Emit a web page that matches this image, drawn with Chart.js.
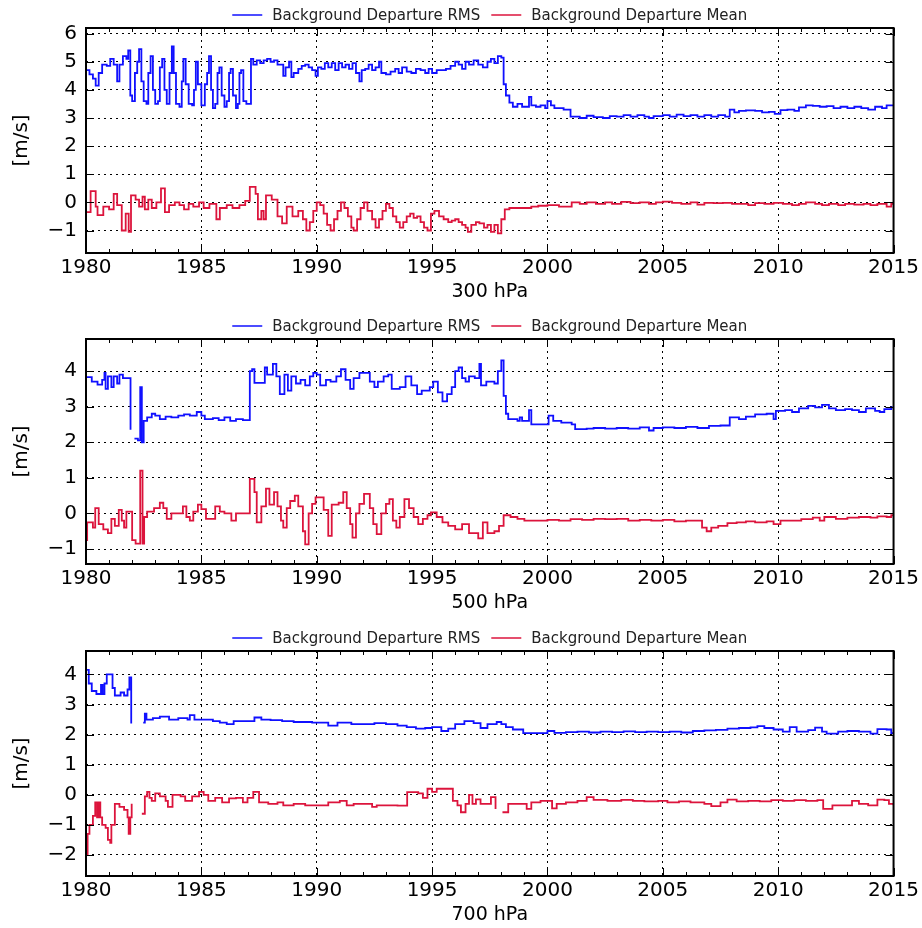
<!DOCTYPE html>
<html>
<head>
<meta charset="utf-8">
<script src="https://cdn.jsdelivr.net/npm/chart.js@4.4.0/dist/chart.umd.min.js"></script>
<style>
body { margin: 0; background: #fff; }
#wrap { position: relative; width: 922px; height: 928px; }
canvas { position: absolute; left: 0; }
</style>
</head>
<body>
<div id="wrap">
<canvas id="c300" width="922" height="305" style="top:0px"></canvas>
<canvas id="c500" width="922" height="305" style="top:311px"></canvas>
<canvas id="c700" width="922" height="305" style="top:623px"></canvas>
</div>
<script>
// values, [year, m/s]; each value holds until the next year entry
var seriesLabels = ['Background Departure RMS', 'Background Departure Mean'];
var levelTitles = ['300 hPa', '500 hPa', '700 hPa'];
var yearTicks = [1980, 1985, 1990, 1995, 2000, 2005, 2010, 2015];
var yRanges = [[-1.8, 6.2], [-1.42, 4.9], [-2.7, 4.78]];

var p300Rms = [
  [1980.0,4.7],[1980.15,4.55],[1980.3,4.4],[1980.42,4.15],[1980.55,4.6],[1980.7,4.9],[1980.9,4.85],[1981.05,5.1],
  [1981.2,4.9],[1981.35,4.3],[1981.45,4.9],[1981.6,5.2],[1981.75,5.1],[1981.83,5.4],[1981.92,3.8],[1982.0,3.6],
  [1982.12,4.6],[1982.22,5.0],[1982.3,5.45],[1982.4,4.3],[1982.5,3.6],[1982.62,3.5],[1982.7,4.6],[1982.8,5.2],
  [1982.9,4.0],[1983.0,3.5],[1983.12,3.6],[1983.2,4.8],[1983.3,5.1],[1983.4,4.0],[1983.5,3.5],[1983.62,4.6],
  [1983.72,5.55],[1983.8,4.6],[1983.9,3.5],[1984.05,3.4],[1984.15,4.3],[1984.22,5.1],[1984.32,4.2],[1984.45,3.5],
  [1984.6,3.45],[1984.68,4.0],[1984.76,5.0],[1984.85,4.2],[1985.0,3.45],[1985.15,4.2],[1985.25,4.6],[1985.33,5.2],
  [1985.42,4.0],[1985.5,3.35],[1985.6,3.5],[1985.7,4.6],[1985.78,4.8],[1985.88,3.8],[1986.0,3.4],[1986.1,3.6],
  [1986.2,4.6],[1986.27,4.75],[1986.37,3.8],[1986.5,3.35],[1986.58,3.5],[1986.65,4.6],[1986.72,4.7],[1986.82,3.6],
  [1986.95,3.5],[1987.15,5.1],[1987.25,4.9],[1987.4,5.05],[1987.55,4.95],[1987.7,5.05],[1987.85,5.1],[1988.0,5.0],
  [1988.15,5.05],[1988.3,4.9],[1988.45,4.9],[1988.55,4.5],[1988.65,4.8],[1988.8,5.0],[1988.9,4.45],[1989.0,4.6],
  [1989.2,4.75],[1989.35,4.85],[1989.5,4.9],[1989.65,4.8],[1989.8,4.7],[1989.95,4.5],[1990.05,4.8],[1990.2,4.75],
  [1990.35,4.95],[1990.5,4.8],[1990.65,4.95],[1990.8,4.7],[1990.95,4.95],[1991.1,4.8],[1991.25,4.9],[1991.4,4.75],
  [1991.55,4.95],[1991.7,4.6],[1991.85,4.3],[1991.95,4.7],[1992.1,4.75],[1992.25,4.9],[1992.4,4.7],[1992.55,4.8],
  [1992.7,5.0],[1992.8,4.6],[1993.0,4.55],[1993.2,4.65],[1993.4,4.75],[1993.55,4.6],[1993.7,4.8],[1993.9,4.65],
  [1994.1,4.6],[1994.3,4.75],[1994.5,4.7],[1994.7,4.6],[1994.85,4.75],[1995.0,4.6],[1995.2,4.7],[1995.4,4.7],
  [1995.6,4.75],[1995.8,4.85],[1996.0,5.0],[1996.15,4.9],[1996.3,4.75],[1996.45,5.0],[1996.6,4.9],[1996.8,5.05],
  [1997.0,4.9],[1997.2,4.8],[1997.4,5.0],[1997.55,5.1],[1997.7,4.95],[1997.85,5.2],[1998.0,5.15],[1998.1,4.2],
  [1998.2,3.8],[1998.35,3.55],[1998.5,3.4],[1998.7,3.5],[1998.9,3.4],[1999.1,3.4],[1999.2,3.75],[1999.3,3.45],
  [1999.5,3.4],[1999.7,3.45],[1999.9,3.35],[2000.0,3.6],[2000.15,3.45],[2000.3,3.35],[2000.5,3.35],[2000.7,3.3],
  [2001.0,3.05],[2001.4,3.0],[2001.7,3.08],[2002.0,3.03],[2002.4,3.0],[2002.7,3.07],[2003.0,3.05],[2003.3,3.1],
  [2003.6,3.05],[2003.9,3.1],[2004.2,3.05],[2004.4,3.0],[2004.6,3.07],[2005.0,3.1],[2005.3,3.05],[2005.6,3.12],
  [2005.9,3.07],[2006.2,3.1],[2006.5,3.05],[2006.8,3.1],[2007.1,3.05],[2007.4,3.1],[2007.7,3.05],[2007.9,3.3],
  [2008.1,3.2],[2008.3,3.25],[2008.6,3.27],[2009.0,3.25],[2009.3,3.2],[2009.6,3.22],[2009.85,3.15],[2010.1,3.28],
  [2010.4,3.3],[2010.7,3.25],[2010.9,3.38],[2011.2,3.45],[2011.5,3.43],[2011.8,3.4],[2012.1,3.42],[2012.4,3.35],
  [2012.7,3.4],[2013.0,3.35],[2013.3,3.4],[2013.6,3.35],[2013.9,3.3],[2014.2,3.4],[2014.5,3.35],[2014.7,3.45],
  [2015.0,3.45]
];
var p300Mean = [
  [1980.0,-0.35],[1980.2,0.4],[1980.42,-0.15],[1980.5,-0.45],[1980.75,-0.15],[1981.0,-0.25],[1981.2,0.3],[1981.35,-0.1],
  [1981.55,-1.0],[1981.72,-0.4],[1981.85,-1.05],[1981.95,0.25],[1982.15,0.1],[1982.3,-0.15],[1982.45,0.2],[1982.55,-0.25],
  [1982.7,0.1],[1982.85,-0.2],[1983.05,0.0],[1983.25,0.5],[1983.42,-0.35],[1983.6,-0.1],[1983.85,0.0],[1984.05,-0.1],
  [1984.25,-0.25],[1984.45,-0.05],[1984.65,-0.15],[1984.9,0.0],[1985.1,-0.2],[1985.35,-0.05],[1985.65,-0.6],[1985.8,-0.2],
  [1986.1,-0.1],[1986.35,-0.2],[1986.65,-0.1],[1986.9,0.05],[1987.1,0.55],[1987.35,0.3],[1987.45,-0.6],[1987.6,-0.3],
  [1987.7,-0.6],[1987.8,0.25],[1988.05,0.1],[1988.3,-0.5],[1988.5,-0.75],[1988.7,-0.15],[1988.95,-0.5],[1989.2,-0.3],
  [1989.4,-0.6],[1989.55,-1.0],[1989.7,-0.7],[1989.85,-0.3],[1990.0,0.0],[1990.15,-0.1],[1990.3,-0.4],[1990.45,-0.8],
  [1990.6,-1.0],[1990.75,-0.6],[1990.9,-0.3],[1991.05,0.0],[1991.2,-0.2],[1991.35,-0.5],[1991.5,-0.9],[1991.6,-1.0],
  [1991.75,-0.6],[1991.9,-0.2],[1992.05,0.0],[1992.2,-0.3],[1992.4,-0.6],[1992.55,-0.9],[1992.7,-0.6],[1992.85,-0.3],
  [1993.0,-0.05],[1993.15,-0.2],[1993.3,-0.5],[1993.45,-0.7],[1993.6,-0.9],[1993.75,-0.7],[1993.9,-0.5],[1994.05,-0.4],
  [1994.2,-0.55],[1994.35,-0.5],[1994.5,-0.7],[1994.65,-0.9],[1994.8,-1.0],[1994.95,-0.4],[1995.1,-0.3],[1995.3,-0.5],
  [1995.5,-0.6],[1995.7,-0.7],[1995.85,-0.65],[1996.0,-0.6],[1996.15,-0.7],[1996.3,-0.8],[1996.45,-0.9],[1996.55,-1.05],
  [1996.7,-0.8],[1996.9,-0.7],[1997.05,-0.75],[1997.25,-0.9],[1997.4,-0.8],[1997.55,-1.05],[1997.7,-0.8],[1997.85,-1.1],
  [1998.0,-0.6],[1998.15,-0.25],[1998.35,-0.2],[1999.0,-0.2],[1999.3,-0.15],[1999.6,-0.12],[2000.0,-0.1],[2000.5,-0.15],
  [2001.05,0.0],[2001.4,-0.05],[2001.7,0.0],[2002.1,-0.05],[2002.5,0.0],[2002.8,-0.05],[2003.2,0.02],[2003.6,-0.03],
  [2004.0,0.0],[2004.4,-0.05],[2004.7,0.0],[2005.0,0.03],[2005.4,-0.02],[2005.8,-0.05],[2006.2,0.0],[2006.5,-0.08],
  [2006.8,-0.02],[2007.2,-0.03],[2007.6,-0.02],[2008.0,-0.05],[2008.4,-0.05],[2008.7,-0.1],[2009.0,-0.03],[2009.4,-0.05],
  [2009.8,-0.02],[2010.2,-0.05],[2010.6,-0.1],[2010.9,-0.05],[2011.2,0.0],[2011.6,-0.05],[2011.9,-0.1],[2012.2,-0.05],
  [2012.6,-0.1],[2012.9,-0.05],[2013.3,-0.08],[2013.7,-0.05],[2014.0,-0.1],[2014.3,-0.05],[2014.7,-0.15],[2014.9,-0.05],
  [2015.0,0.0]
];

var p500Rms = [
  [1980.0,3.83],[1980.25,3.7],[1980.5,3.62],[1980.7,3.75],[1980.8,3.95],[1980.85,3.5],[1980.95,3.85],[1981.1,3.55],
  [1981.2,3.85],[1981.35,3.65],[1981.45,3.9],[1981.6,3.8],[1981.93,2.35],[1982.05,null],[1982.1,2.1],[1982.25,2.05],
  [1982.35,3.55],[1982.42,2.0],[1982.5,2.6],[1982.65,2.7],[1982.85,2.8],[1983.0,2.75],[1983.2,2.65],[1983.45,2.72],
  [1983.7,2.7],[1984.0,2.75],[1984.25,2.78],[1984.5,2.75],[1984.8,2.85],[1985.0,2.75],[1985.15,2.65],[1985.5,2.68],
  [1985.75,2.62],[1986.0,2.7],[1986.25,2.6],[1986.5,2.65],[1986.8,2.62],[1987.1,4.0],[1987.2,4.05],[1987.3,3.67],
  [1987.75,4.1],[1987.85,3.9],[1988.1,4.2],[1988.25,3.85],[1988.4,3.35],[1988.6,3.9],[1988.75,3.45],[1988.9,3.85],
  [1989.1,3.65],[1989.3,3.75],[1989.5,3.6],[1989.7,3.85],[1989.85,3.95],[1990.0,3.9],[1990.15,3.6],[1990.4,3.75],
  [1990.6,3.7],[1990.85,3.85],[1991.05,4.05],[1991.25,3.75],[1991.45,3.5],[1991.6,3.8],[1991.85,3.95],[1992.15,3.95],
  [1992.3,3.7],[1992.5,3.55],[1992.65,3.7],[1992.9,3.85],[1993.1,3.9],[1993.25,3.5],[1993.6,3.55],[1993.85,3.85],
  [1994.1,3.6],[1994.35,3.35],[1994.55,3.45],[1994.9,3.55],[1995.05,3.7],[1995.25,3.4],[1995.45,3.15],[1995.65,3.35],
  [1995.85,3.55],[1996.0,4.0],[1996.15,4.1],[1996.3,3.8],[1996.45,3.7],[1996.6,3.85],[1996.85,3.8],[1997.05,4.2],
  [1997.12,3.6],[1997.35,3.7],[1997.7,3.65],[1997.85,4.0],[1998.0,4.3],[1998.1,3.3],[1998.2,2.8],[1998.3,2.65],
  [1998.7,2.6],[1998.8,2.7],[1998.9,2.6],[1999.2,2.9],[1999.3,2.5],[1999.8,2.5],[2000.05,2.75],[2000.25,2.6],
  [2000.6,2.55],[2001.05,2.5],[2001.2,2.37],[2001.7,2.38],[2002.0,2.4],[2002.5,2.38],[2003.0,2.4],[2003.5,2.38],
  [2004.0,2.42],[2004.4,2.33],[2004.6,2.4],[2005.0,2.42],[2005.5,2.4],[2006.0,2.43],[2006.5,2.4],[2007.0,2.46],
  [2007.5,2.47],[2007.9,2.7],[2008.3,2.65],[2008.6,2.72],[2009.0,2.78],[2009.5,2.8],[2009.8,2.65],[2009.9,2.88],
  [2010.3,2.9],[2010.6,2.85],[2010.9,2.95],[2011.3,3.02],[2011.6,2.98],[2011.9,3.05],[2012.2,2.95],[2012.5,2.9],
  [2012.9,2.93],[2013.2,2.9],[2013.5,2.85],[2013.8,2.95],[2014.2,2.88],[2014.4,2.85],[2014.6,2.93],[2014.9,2.98],
  [2015.0,3.0]
];
var p500Mean = [
  [1980.0,-0.75],[1980.05,-0.25],[1980.3,-0.4],[1980.4,0.15],[1980.55,-0.3],[1980.75,-0.45],[1980.95,-0.55],[1981.1,-0.15],
  [1981.25,-0.35],[1981.42,0.1],[1981.55,-0.2],[1981.65,-0.4],[1981.75,0.05],[1982.0,-0.75],[1982.15,-0.85],[1982.35,1.2],
  [1982.45,-0.85],[1982.52,-0.1],[1982.65,0.05],[1982.95,0.15],[1983.2,0.3],[1983.35,0.15],[1983.5,-0.15],[1983.7,0.0],
  [1984.0,0.0],[1984.2,0.2],[1984.35,-0.1],[1984.5,-0.2],[1984.65,0.05],[1984.85,0.25],[1985.0,0.12],[1985.2,-0.15],
  [1985.6,0.2],[1985.8,0.05],[1986.0,0.0],[1986.3,-0.2],[1986.5,0.0],[1986.8,0.0],[1987.1,0.97],[1987.3,0.6],
  [1987.4,-0.25],[1987.6,0.2],[1987.8,0.7],[1987.95,0.25],[1988.15,0.6],[1988.3,0.2],[1988.45,-0.2],[1988.55,-0.4],
  [1988.7,0.15],[1988.85,0.35],[1989.05,0.5],[1989.2,0.2],[1989.4,-0.5],[1989.5,-0.87],[1989.65,0.0],[1989.8,0.27],
  [1989.95,0.45],[1990.3,0.1],[1990.5,-0.63],[1990.65,0.25],[1990.95,0.3],[1991.15,0.6],[1991.3,0.15],[1991.45,-0.3],
  [1991.55,-0.68],[1991.7,0.0],[1991.85,0.27],[1992.05,0.55],[1992.3,0.15],[1992.45,-0.3],[1992.6,-0.58],[1992.8,0.0],
  [1993.0,0.27],[1993.15,0.4],[1993.3,-0.2],[1993.45,-0.4],[1993.6,-0.1],[1993.8,0.4],[1994.0,0.15],[1994.2,-0.1],
  [1994.4,-0.3],[1994.6,-0.15],[1994.8,-0.05],[1994.95,0.03],[1995.2,-0.1],[1995.45,-0.25],[1995.7,-0.35],[1996.0,-0.45],
  [1996.3,-0.3],[1996.6,-0.55],[1997.0,-0.7],[1997.2,-0.25],[1997.4,-0.55],[1997.7,-0.5],[1997.9,-0.35],[1998.1,-0.05],
  [1998.4,-0.1],[1998.7,-0.15],[1999.0,-0.2],[1999.5,-0.2],[2000.0,-0.18],[2000.5,-0.2],[2001.0,-0.16],[2001.5,-0.18],
  [2002.0,-0.15],[2002.5,-0.16],[2003.0,-0.15],[2003.5,-0.2],[2004.0,-0.18],[2004.5,-0.2],[2005.0,-0.18],[2005.5,-0.22],
  [2006.0,-0.2],[2006.5,-0.2],[2006.7,-0.4],[2006.9,-0.5],[2007.1,-0.4],[2007.4,-0.35],[2007.8,-0.27],[2008.2,-0.25],
  [2008.6,-0.22],[2009.0,-0.25],[2009.5,-0.22],[2009.8,-0.3],[2010.1,-0.2],[2010.5,-0.2],[2011.0,-0.16],[2011.5,-0.12],
  [2011.8,-0.2],[2012.0,-0.1],[2012.5,-0.15],[2013.0,-0.12],[2013.5,-0.1],[2014.0,-0.12],[2014.3,-0.08],[2014.7,-0.1],
  [2014.9,-0.05],[2015.0,-0.05]
];

var p700Rms = [
  [1980.0,4.15],[1980.12,3.7],[1980.25,3.45],[1980.45,3.35],[1980.65,3.65],[1980.72,3.35],[1980.8,3.7],[1980.9,4.0],
  [1981.15,3.55],[1981.25,3.3],[1981.5,3.4],[1981.65,3.3],[1981.8,3.5],[1981.88,3.9],[1981.96,2.37],[1982.08,null],
  [1982.48,2.4],[1982.55,2.7],[1982.62,2.5],[1982.9,2.55],[1983.2,2.6],[1983.6,2.5],[1984.0,2.55],[1984.4,2.5],
  [1984.5,2.65],[1984.7,2.5],[1985.0,2.5],[1985.5,2.45],[1985.8,2.4],[1986.1,2.35],[1986.4,2.45],[1986.9,2.45],
  [1987.3,2.57],[1987.6,2.5],[1988.0,2.48],[1988.5,2.45],[1989.0,2.42],[1989.8,2.4],[1990.5,2.3],[1990.9,2.4],
  [1991.5,2.35],[1992.0,2.35],[1992.5,2.38],[1993.0,2.35],[1993.5,2.3],[1993.9,2.25],[1994.3,2.2],[1994.7,2.22],
  [1995.0,2.25],[1995.4,2.12],[1995.7,2.2],[1996.0,2.35],[1996.4,2.45],[1996.8,2.38],[1997.1,2.22],[1997.4,2.35],
  [1997.8,2.42],[1998.0,2.35],[1998.2,2.25],[1998.5,2.17],[1998.95,2.05],[1999.5,2.05],[2000.0,2.12],[2000.3,2.06],
  [2000.8,2.08],[2001.3,2.1],[2001.8,2.07],[2002.3,2.1],[2002.8,2.08],[2003.3,2.11],[2003.8,2.08],[2004.3,2.1],
  [2004.8,2.08],[2005.3,2.1],[2005.8,2.07],[2006.3,2.12],[2006.8,2.14],[2007.3,2.16],[2007.8,2.2],[2008.3,2.22],
  [2008.8,2.24],[2009.1,2.28],[2009.4,2.22],[2009.8,2.17],[2010.2,2.1],[2010.5,2.25],[2010.8,2.1],[2011.3,2.15],
  [2011.6,2.23],[2011.9,2.1],[2012.1,2.03],[2012.6,2.1],[2013.0,2.12],[2013.5,2.1],[2014.0,2.03],[2014.3,2.18],
  [2014.7,2.17],[2014.9,2.05],[2015.0,2.05]
];
var p700Mean = [
  [1980.0,-2.0],[1980.07,-1.3],[1980.15,-1.0],[1980.3,-0.7],[1980.4,-0.25],[1980.48,-0.75],[1980.55,-0.25],[1980.62,-0.75],
  [1980.7,-1.0],[1980.85,-1.1],[1980.95,-1.5],[1981.05,-1.6],[1981.1,-1.0],[1981.25,-0.3],[1981.45,-0.4],[1981.65,-0.5],
  [1981.8,-0.75],[1981.85,-1.3],[1981.92,-0.75],[1981.98,-0.3],[1982.1,null],[1982.42,-0.63],[1982.55,-0.05],[1982.65,0.1],
  [1982.75,-0.1],[1982.85,-0.2],[1983.0,0.05],[1983.2,-0.05],[1983.45,-0.2],[1983.55,-0.4],[1983.75,0.0],[1984.1,-0.05],
  [1984.3,-0.2],[1984.6,-0.05],[1984.9,0.1],[1985.1,0.0],[1985.3,-0.2],[1985.6,-0.1],[1985.9,-0.25],[1986.2,-0.12],
  [1986.5,-0.1],[1986.8,-0.25],[1987.0,-0.1],[1987.25,0.1],[1987.5,-0.25],[1987.9,-0.3],[1988.3,-0.25],[1988.55,-0.35],
  [1989.0,-0.3],[1989.5,-0.35],[1990.0,-0.35],[1990.5,-0.25],[1991.0,-0.2],[1991.3,-0.35],[1991.6,-0.3],[1992.0,-0.3],
  [1992.4,-0.4],[1992.6,-0.35],[1993.0,-0.35],[1993.5,-0.36],[1993.92,0.09],[1994.4,0.05],[1994.6,-0.1],[1994.8,0.2],
  [1995.0,0.1],[1995.2,0.2],[1995.9,-0.2],[1996.1,-0.35],[1996.25,-0.58],[1996.45,-0.3],[1996.6,0.0],[1996.75,-0.3],
  [1996.9,-0.15],[1997.1,-0.3],[1997.55,-0.08],[1997.75,-0.47],[1997.9,null],[1998.05,-0.58],[1998.3,-0.3],[1999.0,-0.3],
  [1999.1,-0.47],[1999.3,-0.25],[1999.7,-0.2],[2000.2,-0.45],[2000.4,-0.3],[2000.8,-0.25],[2001.3,-0.2],[2001.7,-0.08],
  [2002.0,-0.17],[2002.6,-0.2],[2003.2,-0.17],[2003.7,-0.2],[2004.2,-0.22],[2004.8,-0.2],[2005.2,-0.25],[2005.7,-0.22],
  [2006.2,-0.25],[2006.8,-0.3],[2007.1,-0.38],[2007.5,-0.25],[2007.8,-0.16],[2008.2,-0.22],[2008.7,-0.2],[2009.2,-0.22],
  [2009.7,-0.18],[2010.2,-0.2],[2010.7,-0.18],[2011.2,-0.2],[2011.7,-0.18],[2011.95,-0.47],[2012.35,-0.35],[2012.8,-0.35],
  [2013.2,-0.2],[2013.5,-0.3],[2013.9,-0.35],[2014.3,-0.16],[2014.6,-0.18],[2014.8,-0.3],[2015.0,-0.35]
];

var FONT = 'DejaVu Sans';
var RMS_COLOR = '#1010ff';
var MEAN_COLOR = '#dc143c';

function toPoints(pairs) {
    return pairs.map(function (p) { return { x: p[0], y: p[1] }; });
}

function minusLabel(v) {
    return v < 0 ? '\u2212' + Math.abs(v) : String(v);
}

// frame + inward ticks like the matplotlib original
var frameTicks = {
    id: 'frameTicks',
    afterDatasetsDraw: function (chart) {
        var ctx = chart.ctx, a = chart.chartArea;
        var xs = chart.scales.x, ys = chart.scales.y;
        ctx.save();
        ctx.strokeStyle = '#000';
        ctx.lineWidth = 1;
        ctx.beginPath();
        for (var yr = xs.min; yr <= xs.max; yr++) {
            var px = Math.round(xs.getPixelForValue(yr)) + 0.5;
            var len = yr % 5 === 0 ? 8 : 4;
            ctx.moveTo(px, a.bottom); ctx.lineTo(px, a.bottom - len);
            ctx.moveTo(px, a.top); ctx.lineTo(px, a.top + len);
        }
        ys.ticks.forEach(function (t) {
            var py = Math.round(ys.getPixelForValue(t.value)) + 0.5;
            ctx.moveTo(a.left, py); ctx.lineTo(a.left + 8, py);
            ctx.moveTo(a.right, py); ctx.lineTo(a.right - 8, py);
        });
        ctx.stroke();
        ctx.lineWidth = 2;
        ctx.strokeRect(a.left, a.top, a.right - a.left, a.bottom - a.top);
        ctx.restore();
    }
};

// legend row above the plot, centred on the plot area
var topLegend = {
    id: 'topLegend',
    afterDraw: function (chart) {
        var ctx = chart.ctx, a = chart.chartArea;
        var sets = chart.data.datasets;
        ctx.save();
        ctx.font = '15px "' + FONT + '"';
        ctx.textBaseline = 'middle';
        var lineLen = 30, gap = 10, between = 11;
        var total = 0;
        sets.forEach(function (ds, i) {
            total += lineLen + gap + ctx.measureText(ds.label).width + (i < sets.length - 1 ? between : 0);
        });
        var x = (a.left + a.right) / 2 - total / 2;
        var y = 15;
        sets.forEach(function (ds) {
            ctx.strokeStyle = ds.borderColor;
            ctx.lineWidth = 1.5;
            ctx.beginPath();
            ctx.moveTo(x, y); ctx.lineTo(x + lineLen, y);
            ctx.stroke();
            x += lineLen + gap;
            ctx.fillStyle = '#222';
            ctx.fillText(ds.label, x, y + 1);
            x += ctx.measureText(ds.label).width + between;
        });
        ctx.restore();
    }
};

function makePanel(canvasId, title, rms, mean, range) {
    var ctx = document.getElementById(canvasId).getContext('2d');
    return new Chart(ctx, {
        type: 'line',
        data: {
            datasets: [
                { label: seriesLabels[0], data: toPoints(rms), borderColor: RMS_COLOR, stepped: true },
                { label: seriesLabels[1], data: toPoints(mean), borderColor: MEAN_COLOR, stepped: true }
            ]
        },
        options: {
            responsive: false,
            animation: false,
            devicePixelRatio: 1,
            parsing: false,
            spanGaps: false,
            layout: { padding: { top: 28, right: 28, left: 0, bottom: 0 } },
            elements: {
                point: { radius: 0 },
                line: { borderWidth: 1.8, tension: 0, fill: false }
            },
            plugins: {
                legend: { display: false },
                tooltip: { enabled: false }
            },
            scales: {
                x: {
                    type: 'linear',
                    min: 1980,
                    max: 2015,
                    afterBuildTicks: function (s) {
                        s.ticks = yearTicks.map(function (v) { return { value: v }; });
                    },
                    afterFit: function (s) { s.height = 52; },
                    ticks: {
                        font: { family: FONT, size: 20 },
                        color: '#000',
                        padding: 3,
                        maxRotation: 0,
                        autoSkip: false,
                        callback: function (v) { return String(v); }
                    },
                    grid: { color: '#000', lineWidth: 1, drawTicks: false },
                    border: { display: false, dash: [2, 4] },
                    title: {
                        display: true,
                        text: title,
                        font: { family: FONT, size: 19 },
                        color: '#000',
                        padding: { top: 0, bottom: 2 }
                    }
                },
                y: {
                    type: 'linear',
                    min: range[0],
                    max: range[1],
                    afterBuildTicks: function (s) {
                        var t = [];
                        for (var v = Math.ceil(range[0]); v <= Math.floor(range[1]); v++) t.push({ value: v });
                        s.ticks = t;
                    },
                    afterFit: function (s) { s.width = 86; },
                    ticks: {
                        font: { family: FONT, size: 20 },
                        color: '#000',
                        padding: 9,
                        callback: minusLabel
                    },
                    grid: { color: '#000', lineWidth: 1, drawTicks: false },
                    border: { display: false, dash: [2, 4] },
                    title: {
                        display: true,
                        text: '[m/s]',
                        font: { family: FONT, size: 20 },
                        color: '#000',
                        padding: { top: 10, bottom: 0 }
                    }
                }
            }
        },
        plugins: [frameTicks, topLegend]
    });
}

makePanel('c300', levelTitles[0], p300Rms, p300Mean, yRanges[0]);
makePanel('c500', levelTitles[1], p500Rms, p500Mean, yRanges[1]);
makePanel('c700', levelTitles[2], p700Rms, p700Mean, yRanges[2]);
</script>
</body>
</html>
